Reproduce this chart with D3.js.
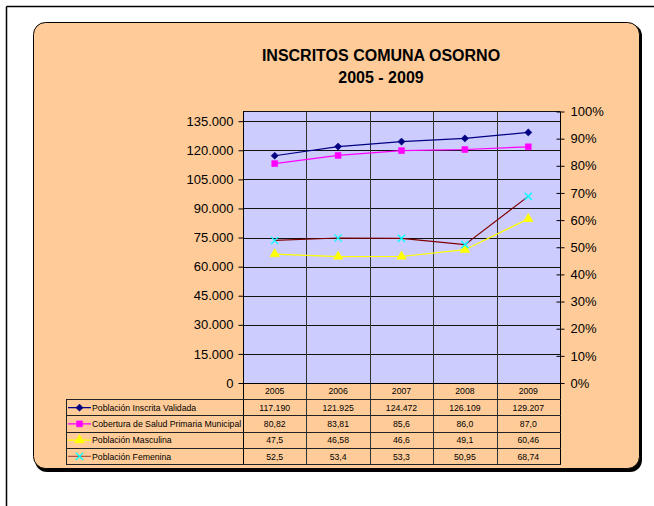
<!DOCTYPE html>
<html>
<head>
<meta charset="utf-8">
<script src="https://cdn.jsdelivr.net/npm/d3@7"></script>
<style>
  body { margin: 0; background: #fff; }
  text { font-family: "Liberation Sans", Arial, sans-serif; fill: #000; }
</style>
</head>
<body>
<div id="chart"></div>
<script>
// Data
let years = ["2005", "2006", "2007", "2008", "2009"];
let inscrita = [117190, 121925, 124472, 126109, 129207];
let cobertura = [80.82, 83.81, 85.6, 86.0, 87.0];
let masculina = [47.5, 46.58, 46.6, 49.1, 60.46];
let femenina = [52.5, 53.4, 53.3, 50.95, 68.74];

let inscritaLabels = ["117.190", "121.925", "124.472", "126.109", "129.207"];
let coberturaLabels = ["80,82", "83,81", "85,6", "86,0", "87,0"];
let masculinaLabels = ["47,5", "46,58", "46,6", "49,1", "60,46"];
let femeninaLabels = ["52,5", "53,4", "53,3", "50,95", "68,74"];

let leftTicks = [0, 15000, 30000, 45000, 60000, 75000, 90000, 105000, 120000, 135000];
let rightTicks = [0, 10, 20, 30, 40, 50, 60, 70, 80, 90, 100];

let series = [
  {name: "Población Inscrita Validada", values: inscrita, labels: inscritaLabels, axis: "left",
   line: "#000080", marker: "diamond", mcolor: "#000080"},
  {name: "Cobertura de Salud Primaria Municipal", values: cobertura, labels: coberturaLabels, axis: "right",
   line: "#FF00FF", marker: "square", mcolor: "#FF00FF"},
  {name: "Población Masculina", values: masculina, labels: masculinaLabels, axis: "right",
   line: "#FFFF00", marker: "triangle", mcolor: "#FFFF00"},
  {name: "Población Femenina", values: femenina, labels: femeninaLabels, axis: "right",
   line: "#800000", marker: "x", mcolor: "#00FFFF"}
];

let svgWidth = 654;
let svgHeight = 506;

let plot = {left: 243, right: 560, top: 111.5, bottom: 383};
let tableTop = 399;
let rowH = 16.25;
let tableLeft = 66;

let svg = d3.select("#chart")
  .append("svg")
  .attr("width", svgWidth)
  .attr("height", svgHeight);

svg.append("rect").attr("width", svgWidth).attr("height", svgHeight).attr("fill", "#fff");

// page frame lines
svg.append("line").attr("x1", 6.5).attr("x2", svgWidth).attr("y1", 6.5).attr("y2", 6.5)
  .attr("stroke", "#000").attr("stroke-width", 1.5);
svg.append("line").attr("x1", 6.5).attr("x2", 6.5).attr("y1", 6.5).attr("y2", svgHeight)
  .attr("stroke", "#000").attr("stroke-width", 1.5);

// chart area box with shadow
svg.append("rect")
  .attr("x", 35).attr("y", 24).attr("width", 607).attr("height", 448)
  .attr("rx", 12).attr("fill", "#000");
svg.append("rect")
  .attr("x", 33.5).attr("y", 22.5).attr("width", 606).attr("height", 446)
  .attr("rx", 12).attr("fill", "#FFCC99").attr("stroke", "#000").attr("stroke-width", 1);

// title
let title = svg.append("text")
  .attr("x", 381).attr("y", 61)
  .attr("text-anchor", "middle")
  .style("font-weight", "bold")
  .style("font-size", "16px");
title.append("tspan").attr("x", 381).attr("y", 61).text("INSCRITOS COMUNA OSORNO");
title.append("tspan").attr("x", 381).attr("y", 83).text("2005 - 2009");

// scales
let xScale = d3.scaleBand().domain(years).range([plot.left, plot.right]);
let yLeft = d3.scaleLinear().domain([0, 140000]).range([plot.bottom, plot.top]);
let yRight = d3.scaleLinear().domain([0, 100]).range([plot.bottom, plot.top]);

let locale = d3.formatLocale({decimal: ",", thousands: ".", grouping: [3], currency: ["", ""]});
let fmtThousands = locale.format(",");

// plot background
svg.append("rect")
  .attr("x", plot.left).attr("y", plot.top)
  .attr("width", plot.right - plot.left).attr("height", plot.bottom - plot.top)
  .attr("fill", "#CCCCFF");

// horizontal gridlines
svg.append("g").selectAll("line")
  .data(leftTicks.filter(d => d > 0))
  .enter().append("line")
  .attr("x1", plot.left).attr("x2", plot.right)
  .attr("y1", d => Math.round(yLeft(d)) + 0.5)
  .attr("y2", d => Math.round(yLeft(d)) + 0.5)
  .attr("stroke", "#111");

// plot top border
svg.append("line")
  .attr("x1", plot.left).attr("x2", plot.right)
  .attr("y1", plot.top).attr("y2", plot.top)
  .attr("stroke", "#111");

// vertical category dividers (through plot and table)
svg.append("g").selectAll("line")
  .data(years.slice(1))
  .enter().append("line")
  .attr("x1", d => Math.round(xScale(d)) + 0.5)
  .attr("x2", d => Math.round(xScale(d)) + 0.5)
  .attr("y1", plot.top).attr("y2", tableTop + rowH * 4)
  .attr("stroke", "#333");

// left axis
let leftAxis = d3.axisLeft(yLeft)
  .tickValues(leftTicks)
  .tickSize(5)
  .tickPadding(5)
  .tickFormat(d => fmtThousands(d));

let leftG = svg.append("g")
  .attr("transform", `translate(${plot.left + 0.5}, 0)`)
  .call(leftAxis);
leftG.select(".domain").remove();
leftG.selectAll("line").attr("stroke", "#000");
leftG.selectAll("text")
  .style("font-family", "Liberation Sans, Arial, sans-serif")
  .style("font-size", "13px").attr("fill", "#000");

svg.append("line")
  .attr("x1", plot.left + 0.5).attr("x2", plot.left + 0.5)
  .attr("y1", plot.top).attr("y2", tableTop + rowH * 4)
  .attr("stroke", "#000");

// right axis
let rightAxis = d3.axisRight(yRight)
  .tickValues(rightTicks)
  .tickSize(4)
  .tickPadding(6)
  .tickFormat(d => d + "%");

let rightG = svg.append("g")
  .attr("transform", `translate(${plot.right + 0.5}, 0)`)
  .call(rightAxis);
rightG.select(".domain").remove();
rightG.selectAll(".tick line").attr("x1", -4).attr("stroke", "#000");
rightG.selectAll("text")
  .style("font-family", "Liberation Sans, Arial, sans-serif")
  .style("font-size", "13px").attr("fill", "#000");

svg.append("line")
  .attr("x1", plot.right + 0.5).attr("x2", plot.right + 0.5)
  .attr("y1", plot.top).attr("y2", tableTop + rowH * 4)
  .attr("stroke", "#000");

// bottom axis line
svg.append("line")
  .attr("x1", plot.left).attr("x2", plot.right + 1)
  .attr("y1", plot.bottom + 0.5).attr("y2", plot.bottom + 0.5)
  .attr("stroke", "#000");

// marker symbols
function markerPath(type) {
  if (type === "diamond") return "M0,-3.6L3.6,0L0,3.6L-3.6,0Z";
  if (type === "square") return d3.symbol().type(d3.symbolSquare).size(36)();
  if (type === "triangle") return d3.symbol().type(d3.symbolTriangle).size(40)();
  return d3.symbol().type(d3.symbolX).size(36)();
}

function drawMarker(g, s, x, y) {
  let p = g.append("path")
    .attr("d", markerPath(s.marker))
    .attr("transform", `translate(${x}, ${y})`);
  if (s.marker === "x") {
    p.attr("fill", "none").attr("stroke", s.mcolor).attr("stroke-width", 1.3);
  } else {
    p.attr("fill", s.mcolor).attr("stroke", s.mcolor).attr("stroke-width", 0.5);
  }
}

let cx = d => xScale(d) + xScale.bandwidth() / 2;

// lines and markers
series.forEach(function(s) {
  let yS = s.axis === "left" ? yLeft : yRight;
  let pts = years.map((yr, i) => [cx(yr), yS(s.values[i])]);
  let lineGen = d3.line();
  svg.append("path")
    .attr("d", lineGen(pts))
    .attr("fill", "none")
    .attr("stroke", s.line)
    .attr("stroke-width", 1.2);
  let mg = svg.append("g");
  pts.forEach(p => drawMarker(mg, s, p[0], p[1]));
});

// data table
let tableG = svg.append("g");

// year header
tableG.selectAll(".yr")
  .data(years)
  .enter().append("text")
  .attr("x", d => cx(d))
  .attr("y", plot.bottom + 11)
  .attr("text-anchor", "middle")
  .style("font-size", "8.7px")
  .text(d => d);

// row lines
d3.range(5).forEach(function(i) {
  tableG.append("line")
    .attr("x1", tableLeft).attr("x2", plot.right + 1)
    .attr("y1", Math.round(tableTop + i * rowH) + 0.5)
    .attr("y2", Math.round(tableTop + i * rowH) + 0.5)
    .attr("stroke", "#222");
});
tableG.append("line")
  .attr("x1", tableLeft + 0.5).attr("x2", tableLeft + 0.5)
  .attr("y1", tableTop).attr("y2", tableTop + rowH * 4 + 1)
  .attr("stroke", "#222");

series.forEach(function(s, i) {
  let ym = tableTop + rowH * i + rowH / 2 + 0.5;
  // legend key
  tableG.append("line")
    .attr("x1", tableLeft + 2).attr("x2", tableLeft + 25)
    .attr("y1", ym).attr("y2", ym)
    .attr("stroke", s.marker === "x" ? "#B0584A" : s.line)
    .attr("stroke-width", 1.3);
  drawMarker(tableG, s, tableLeft + 13.5, ym);
  tableG.append("text")
    .attr("x", tableLeft + 26)
    .attr("y", ym + 3.2)
    .style("font-size", "8.7px")
    .text(s.name);
  // values
  tableG.selectAll(null)
    .data(s.labels)
    .enter().append("text")
    .attr("x", (d, j) => cx(years[j]))
    .attr("y", ym + 3.2)
    .attr("text-anchor", "middle")
    .style("font-size", "8.7px")
    .text(d => d);
});
</script>
</body>
</html>
